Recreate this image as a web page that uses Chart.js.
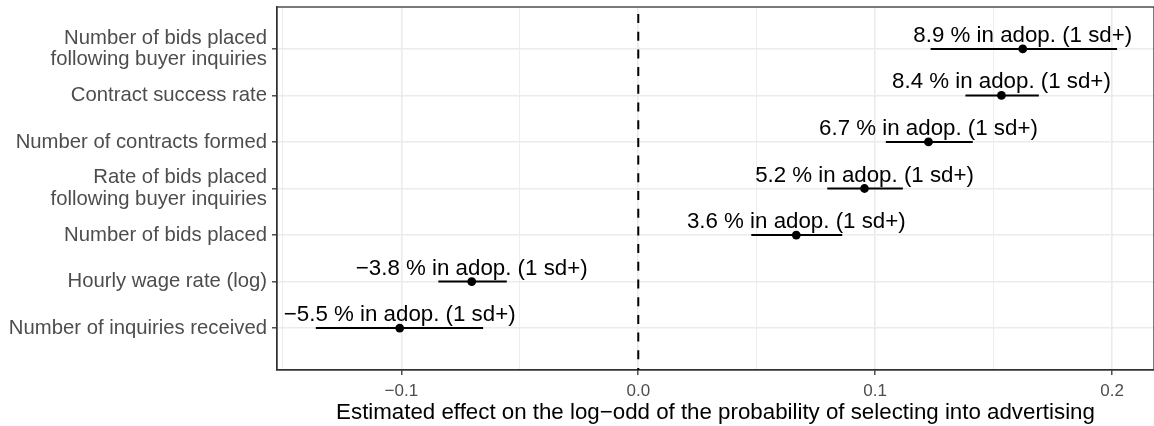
<!DOCTYPE html>
<html><head><meta charset="utf-8">
<script src="https://cdn.jsdelivr.net/npm/chart.js@4"></script>
<style>html,body{margin:0;padding:0;background:#fff}#wrap{width:1154px;height:426px;position:relative}</style>
</head><body><div id="wrap"><canvas id="c" width="1154" height="426"></canvas></div>
<script>
const categories = [
  ["Number of bids placed", "following buyer inquiries"],
  "Contract success rate",
  "Number of contracts formed",
  ["Rate of bids placed", "following buyer inquiries"],
  "Number of bids placed",
  "Hourly wage rate (log)",
  "Number of inquiries received"
];
const estimates = [0.1623, 0.1533, 0.1225, 0.0955, 0.0667, -0.0703, -0.1007];
const lowerCI   = [0.1234, 0.1381, 0.1045, 0.0798, 0.0477, -0.0844, -0.1361];
const upperCI   = [0.2021, 0.1691, 0.1412, 0.1117, 0.0861, -0.0555, -0.0655];
const effectLabels = [
  "8.9 % in adop. (1 sd+)",
  "8.4 % in adop. (1 sd+)",
  "6.7 % in adop. (1 sd+)",
  "5.2 % in adop. (1 sd+)",
  "3.6 % in adop. (1 sd+)",
  "\u22123.8 % in adop. (1 sd+)",
  "\u22125.5 % in adop. (1 sd+)"
];
const referenceLine = 0;
const xGridValues = [-0.15, -0.1, -0.05, 0, 0.05, 0.1, 0.15, 0.2];
const xMajorTicks = [-0.1, 0, 0.1, 0.2];
const xTickLabels = ["\u22120.1", "0.0", "0.1", "0.2"];
const xTitle = "Estimated effect on the log\u2212odd of the probability of selecting into advertising";

Chart.defaults.font.family = "'Liberation Sans', Arial, Helvetica, sans-serif";
const isMajor = v => xMajorTicks.indexOf(v) >= 0;

const datasets = [];
datasets.push({
  type: 'line',
  data: [{x: referenceLine, y: -0.9}, {x: referenceLine, y: 6.9}],
  borderColor: '#000', borderWidth: 2, borderDash: [9, 8.7], borderDashOffset: 10.7,
  pointRadius: 0, fill: false
});
categories.forEach((c, i) => {
  datasets.push({
    type: 'line',
    data: [{x: lowerCI[i], y: i}, {x: upperCI[i], y: i}],
    borderColor: '#000', borderWidth: 2, pointRadius: 0, fill: false
  });
});
datasets.push({
  type: 'scatter',
  data: estimates.map((e, i) => ({x: e, y: i})),
  pointRadius: 4.4, pointBackgroundColor: '#000', pointBorderWidth: 0, pointHoverRadius: 4.4
});

const frame = {
  id: 'frame',
  beforeDatasetsDraw(chart) {
    const a = chart.chartArea, ctx = chart.ctx;
    ctx.save();
    ctx.strokeStyle = '#333333'; ctx.lineWidth = 1.3;
    ctx.strokeRect(a.left, a.top, a.right - a.left, a.bottom - a.top);
    ctx.restore();
  },
  afterDatasetsDraw(chart) {
    const ctx = chart.ctx, xs = chart.scales.x, ys = chart.scales.y;
    ctx.save();
    ctx.font = "22.3px 'Liberation Sans', Arial, Helvetica, sans-serif";
    ctx.fillStyle = '#000'; ctx.textAlign = 'center'; ctx.textBaseline = 'alphabetic';
    effectLabels.forEach((t, i) => {
      ctx.fillText(t, xs.getPixelForValue(estimates[i]), ys.getPixelForValue(i) - 7);
    });
    ctx.restore();
  }
};

new Chart(document.getElementById('c'), {
  type: 'scatter',
  data: { datasets },
  plugins: [frame],
  options: {
    responsive: false, animation: false, devicePixelRatio: 1,
    layout: { autoPadding: false, padding: { top: 7, left: 0, right: -2, bottom: 0 } },
    plugins: { legend: { display: false }, tooltip: { enabled: false } },
    scales: {
      x: {
        type: 'linear', min: -0.1525, max: 0.2177,
        afterBuildTicks: s => { s.ticks = xGridValues.map(v => ({value: v})); },
        afterFit: s => { s.height = 56; s.paddingLeft = 0; s.paddingRight = 0; },
        ticks: {
          autoSkip: false, maxRotation: 0, padding: 6, color: '#4d4d4d',
          font: { size: 17 },
          callback: v => { const k = xMajorTicks.indexOf(v); return k >= 0 ? xTickLabels[k] : ''; }
        },
        grid: {
          color: '#ebebeb',
          lineWidth: c => isMajor(c.tick ? c.tick.value : NaN) ? 1.6 : 0.9,
          tickColor: c => isMajor(c.tick ? c.tick.value : NaN) ? '#333333' : 'rgba(0,0,0,0)',
          tickLength: 5, tickWidth: 1.3
        },
        border: { display: true, color: '#333333', width: 1.3 },
        title: { display: true, text: xTitle, color: '#000', font: { size: 22.3 }, padding: { top: 0, bottom: 0 } }
      },
      y: {
        type: 'linear', reverse: true, min: -0.9, max: 6.9,
        afterBuildTicks: s => { s.ticks = categories.map((c, i) => ({value: i})); },
        afterFit: s => { s.width = 277; s.paddingTop = 0; s.paddingBottom = 0; },
        ticks: {
          autoSkip: false, padding: 5, color: '#4d4d4d',
          font: { size: 20.3, lineHeight: 1.08 },
          callback: v => categories[v]
        },
        grid: { color: '#ebebeb', lineWidth: 1.6, tickColor: '#333333', tickLength: 5, tickWidth: 1.3 },
        border: { display: true, color: '#333333', width: 1.3 }
      }
    }
  }
});
</script></body></html>
